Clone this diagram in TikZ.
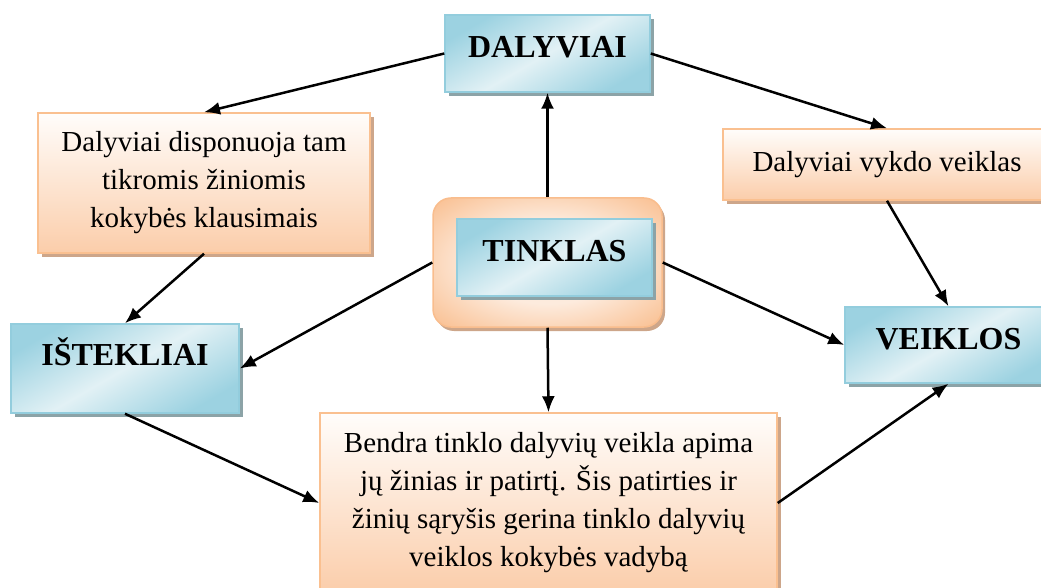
\documentclass[tikz,border=0pt]{standalone}
\usepackage{fontspec}
\setmainfont{Liberation Serif}
\usetikzlibrary{arrows.meta,shadows}
\usetikzlibrary{positioning}

\definecolor{blueline}{HTML}{93CDDD}
\definecolor{bluelight}{HTML}{E2F1F5}
\definecolor{bluedark}{HTML}{9CD2E1}
\definecolor{blueshadow}{HTML}{8CA3A7}
\definecolor{peachline}{HTML}{FAC090}
\definecolor{peachtop}{HTML}{FFFDFB}
\definecolor{peachbottom}{HTML}{FBCDAA}
\definecolor{peachshadow}{HTML}{CDA68A}
\definecolor{peachdark}{HTML}{F9BD8D}
\definecolor{peachlight}{HTML}{FDEBDD}

\pgfdeclareradialshading{hubglow}{\pgfpoint{0bp}{0bp}}{%
  color(0bp)=(peachlight); color(16bp)=(peachlight);
  color(36bp)=(peachdark); color(50bp)=(peachdark)}

\tikzset{
    titlebox/.style={
           rectangle,
           draw=blueline, line width=1.5pt,
           top color=bluedark, bottom color=bluedark,
           middle color=bluelight, shading angle=30,
           drop shadow={shadow xshift=4pt, shadow yshift=-4pt,
                        fill=blueshadow, opacity=1},
           minimum width=205pt,
           minimum height=77pt,
           inner sep=0pt,
           font=\bfseries\fontsize{32}{38}\selectfont,
           text height=22pt, text depth=14pt,
           },
    notebox/.style={
           rectangle,
           draw=peachline, line width=1.5pt,
           top color=peachtop, bottom color=peachbottom,
           drop shadow={shadow xshift=4pt, shadow yshift=-4pt,
                        fill=peachshadow, opacity=1},
           inner sep=0pt,
           align=center,
           font=\fontsize{29}{38}\selectfont,
           },
    hubbox/.style={
           rectangle,
           rounded corners=18pt,
           draw=peachdark, line width=1.5pt,
           shading=hubglow,
           drop shadow={shadow xshift=3pt, shadow yshift=-4pt,
                        fill=peachshadow, opacity=1},
           minimum width=229pt,
           minimum height=129pt,
           },
}

\begin{document}
\begin{tikzpicture}[->,>={Latex[length=16pt,width=13pt]}, x=1pt, y=1pt]
 \useasboundingbox (0,0) rectangle (1041,-588);

 \node[hubbox] (Tinklas) at (547.5,-262.5) {};

 \node[titlebox,
  minimum width=195pt,
  right of=Tinklas,
  node distance=7pt,
  yshift=5pt,
  anchor=center] (TINKLAS)
 {TINKLAS};

 \node[titlebox,
  above of=Tinklas,
  node distance=209pt,
  anchor=center] (Dalyviai)
 {DALYVIAI};

 \node[titlebox,
  minimum width=228pt, minimum height=89pt,
  text depth=29pt,
  left of=Tinklas,
  node distance=422.5pt,
  yshift=-106pt,
  anchor=center] (Istekliai)
 {IŠTEKLIAI};

 \node[titlebox,
  minimum width=207pt, minimum height=76pt,
  right of=Tinklas,
  node distance=401pt,
  yshift=-82.5pt,
  anchor=center] (Veiklos)
 {VEIKLOS};

 % notes beside the arrows
 \node[notebox,
  minimum width=332pt, minimum height=140pt,
  left of=Tinklas,
  node distance=343.5pt,
  yshift=79.5pt,
  anchor=center] (Disponuoja)
 {Dalyviai disponuoja tam\\tikromis žiniomis\\kokybės klausimais};

 \node[notebox,
  minimum width=328pt, minimum height=71pt,
  right of=Tinklas,
  node distance=339.5pt,
  yshift=98pt,
  anchor=center] (Vykdo)
 {Dalyviai vykdo veiklas};

 \node[notebox,
  minimum width=457pt, minimum height=180pt,
  below of=Tinklas,
  node distance=240.5pt,
  xshift=1pt,
  anchor=center] (Bendra)
 {Bendra tinklo dalyvių veikla apima\\jų žinias ir patirtį. Šis patirties ir\\žinių sąryšis gerina tinklo dalyvių\\veiklos kokybės vadybą};

 % arrows between the boxes
 \draw[line width=2.5pt] (Tinklas.north) -- (Dalyviai.south);
 \draw[line width=2.5pt] (Tinklas.west) -- (Istekliai.east);
 \draw[line width=2.5pt] (Tinklas.east) -- (Veiklos.west);
 \draw[line width=2.5pt] (Tinklas.south) -- (Bendra.north);
 \draw[line width=2.5pt] (Dalyviai.west) -- (Disponuoja.north);
 \draw[line width=2.5pt] (Dalyviai.east) -- (Vykdo.north);
 \draw[line width=2.5pt] (Disponuoja.south) -- (Istekliai.north);
 \draw[line width=2.5pt] (Vykdo.south) -- (Veiklos.north);
 \draw[line width=2.5pt] (Istekliai.south) -- (Bendra.west);
 \draw[line width=2.5pt] (Bendra.east) -- (Veiklos.south);

\end{tikzpicture}
\end{document}
